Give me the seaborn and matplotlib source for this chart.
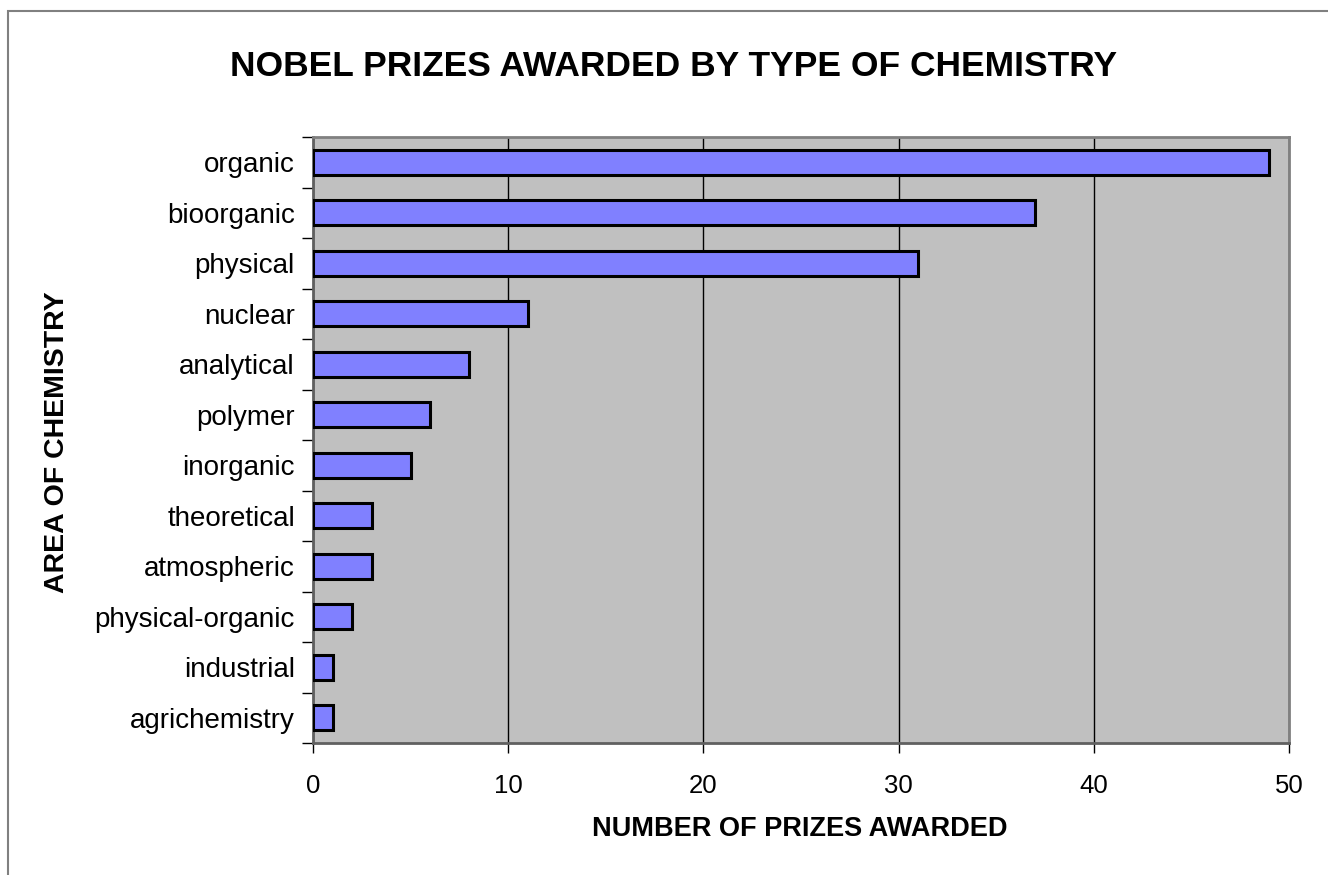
import matplotlib
matplotlib.use('Agg')
import matplotlib.pyplot as plt
import seaborn as sns
import pandas as pd
from matplotlib.patches import Rectangle

# Data
areas = ['organic', 'bioorganic', 'physical', 'nuclear', 'analytical', 'polymer',
         'inorganic', 'theoretical', 'atmospheric', 'physical-organic',
         'industrial', 'agrichemistry']
prizes = [49, 37, 31, 11, 8, 6, 5, 3, 3, 2, 1, 1]
x_ticks = [0, 10, 20, 30, 40, 50]

df = pd.DataFrame({'Area': areas, 'Prizes': prizes})

sns.set_style('white')
plt.rcParams['font.family'] = ['Liberation Sans', 'DejaVu Sans']
plt.rcParams['text.color'] = 'black'
plt.rcParams['xtick.color'] = 'black'
plt.rcParams['ytick.color'] = 'black'

fig = plt.figure(figsize=(13.28, 8.75), dpi=100)
ax = fig.add_axes([313 / 1328, 1 - 743 / 875, (1289 - 313) / 1328, (743 - 137) / 875])
ax.set_facecolor('#C0C0C0')

sns.barplot(data=df, x='Prizes', y='Area', orient='h', color='#8080FF',
            saturation=1, width=0.5, edgecolor='black', linewidth=2.2, ax=ax, zorder=3)

ax.set_xlim(0, 50)
ax.set_ylim(len(areas) - 0.5, -0.5)
ax.set_xticks(x_ticks)
ax.set_xticklabels([str(t) for t in x_ticks], fontsize=18.5)
ax.xaxis.grid(True, color='black', linewidth=1, zorder=1)
ax.set_axisbelow(True)

# category labels centred, ticks on the boundaries (spreadsheet style)
ax.set_yticks(range(len(areas)))
ax.set_yticklabels(areas, fontsize=20)
ax.tick_params(axis='y', which='major', left=True, length=0, pad=13)
ax.set_yticks([i - 0.5 for i in range(len(areas) + 1)], minor=True)
ax.tick_params(axis='y', which='minor', left=True, length=8, width=1,
               color='black', direction='out')
ax.tick_params(axis='x', bottom=True, length=7, width=1, color='black',
               direction='out', pad=15)

for side in ['top', 'right']:
    ax.spines[side].set_color('#808080')
    ax.spines[side].set_linewidth(2)
for side in ['left', 'bottom']:
    ax.spines[side].set_color('#606060')
    ax.spines[side].set_linewidth(2)

ax.set_xlabel('')
ax.set_ylabel('')
fig.text(800 / 1328, 1 - 829 / 875, 'NUMBER OF PRIZES AWARDED', fontsize=19.5,
         fontweight='bold', ha='center', va='center')
fig.text(57 / 1328, 1 - 442 / 875, 'AREA OF CHEMISTRY', fontsize=20.5,
         fontweight='bold', ha='center', va='center', rotation=90)
fig.text(674 / 1328, 1 - 67 / 875, 'NOBEL PRIZES AWARDED BY TYPE OF CHEMISTRY',
         fontsize=25.5, fontweight='bold', ha='center', va='center')

# chart-area border
fig.patches.append(Rectangle((8 / 1328, -0.1), 1.2, 1 - 11 / 875 + 0.1,
                             transform=fig.transFigure, fill=False,
                             edgecolor='#808080', linewidth=1.5))

fig.savefig('out.png', dpi=100)
plt.close(fig)
